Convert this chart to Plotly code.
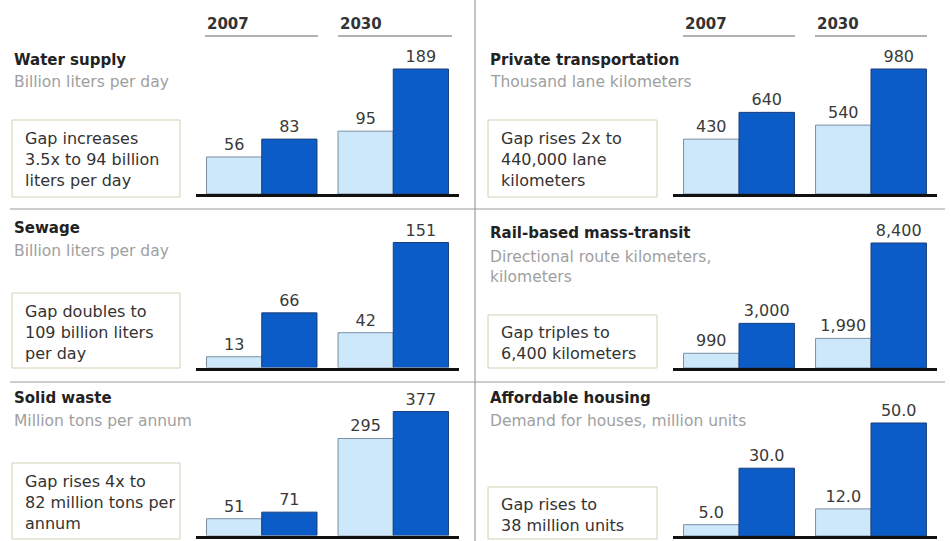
import plotly.graph_objects as go

# ---------------- data ----------------
years = ["2007", "2030"]
titles = ["Water supply", "Sewage", "Solid waste",
          "Private transportation", "Rail-based mass-transit", "Affordable housing"]
subtitles = ["Billion liters per day", "Billion liters per day", "Million tons per annum",
             "Thousand lane kilometers", "Directional route kilometers,<br>kilometers",
             "Demand for houses, million units"]
notes = ["Gap increases<br>3.5x to 94 billion<br>liters per day",
         "Gap doubles to<br>109 billion liters<br>per day",
         "Gap rises 4x to<br>82 million tons per<br>annum",
         "Gap rises 2x to<br>440,000 lane<br>kilometers",
         "Gap triples to<br>6,400 kilometers",
         "Gap rises to<br>38 million units"]
supply = [[56, 95], [13, 42], [51, 295], [430, 540], [990, 1990], [5.0, 12.0]]
demand = [[83, 189], [66, 151], [71, 377], [640, 980], [3000, 8400], [30.0, 50.0]]
value_formats = ["%{y}", "%{y}", "%{y}", "%{y}", "%{y:,}", "%{y:.1f}"]

# ---------------- layout helpers ----------------
W, H = 951, 541
def fx(p): return p / W
def fy(p): return 1 - p / H

FONT = "DejaVu Sans, Arial, sans-serif"
LIGHT = "#cde7fb"
LIGHT_LINE = "#7a8fa3"
DARK = "#0b5cc6"
DARK_LINE = "#1b3f78"

col_dom = [(196, 459), (673, 937)]
col_text_x = [12, 488]
box_x = [(12, 180), (488, 657)]
baselines = [194, 367.5, 535.5, 194, 368, 536]
bar_px = [125, 125, 124, 125, 125, 113]
title_y = [60, 228, 398, 60, 233, 398]
sub_top = [71, 240, 410, 71, 246, 410]
box_y = [(120, 197), (293, 368), (463, 539), (120, 197), (315, 368), (487, 539)]

fig = go.Figure()
annotations = []
shapes = []
DOM_H = 150

for i in range(6):
    col = i // 3
    ax = "" if i == 0 else str(i + 1)
    xa, ya = "x" + ax, "y" + ax
    for vals, fill, line in ((supply[i], LIGHT, LIGHT_LINE), (demand[i], DARK, DARK_LINE)):
        fig.add_trace(go.Bar(
            x=years, y=vals, xaxis=xa, yaxis=ya,
            marker=dict(color=fill, line=dict(color=line, width=1)),
            texttemplate=value_formats[i], textposition="outside",
            textfont=dict(family=FONT, size=16, color="#3a3a3a"),
            cliponaxis=False, showlegend=False, hoverinfo="skip"))
    top = max(supply[i] + demand[i]) * DOM_H / bar_px[i]
    d0, d1 = col_dom[col]
    fig.layout["xaxis" + ax] = dict(
        domain=[fx(d0), fx(d1)], anchor=ya, range=[-0.5, 1.5],
        showline=True, linecolor="#111", linewidth=3,
        showticklabels=False, ticks="", showgrid=False, zeroline=False, fixedrange=True)
    fig.layout["yaxis" + ax] = dict(
        domain=[fy(baselines[i]), fy(baselines[i] - DOM_H)], anchor=xa, range=[0, top],
        visible=False, showgrid=False, zeroline=False, fixedrange=True)

    # texts
    annotations.append(dict(x=fx(col_text_x[col]), y=fy(title_y[i]), xref="paper", yref="paper",
                            text="<b>" + titles[i] + "</b>", showarrow=False,
                            xanchor="left", yanchor="middle",
                            font=dict(family=FONT, size=15, color="#222")))
    annotations.append(dict(x=fx(col_text_x[col]), y=fy(sub_top[i]), xref="paper", yref="paper",
                            text=subtitles[i], showarrow=False, align="left",
                            xanchor="left", yanchor="top",
                            font=dict(family=FONT, size=15.5, color="#a0a0a0")))
    bx0, bx1 = box_x[col]
    by0, by1 = box_y[i]
    shapes.append(dict(type="rect", xref="paper", yref="paper",
                       x0=fx(bx0), x1=fx(bx1), y0=fy(by1), y1=fy(by0),
                       line=dict(color="#d4d0b6", width=1), fillcolor="white", layer="below"))
    annotations.append(dict(x=fx(bx0 + 11), y=fy((by0 + by1) / 2 + 1.5), xref="paper", yref="paper",
                            text=notes[i], showarrow=False, align="left",
                            xanchor="left", yanchor="middle",
                            font=dict(family=FONT, size=16, color="#333")))

# year headers
header_x = [(205, 318), (338, 452), (683, 795), (815, 927)]
for k, (h0, h1) in enumerate(header_x):
    annotations.append(dict(x=fx(h0), y=fy(24), xref="paper", yref="paper",
                            text="<b>" + years[k % 2] + "</b>", showarrow=False,
                            xanchor="left", yanchor="middle",
                            font=dict(family=FONT, size=15, color="#333")))
    shapes.append(dict(type="line", xref="paper", yref="paper",
                       x0=fx(h0), x1=fx(h1), y0=fy(36), y1=fy(36),
                       line=dict(color="#666", width=1)))

# dividers
shapes.append(dict(type="line", xref="paper", yref="paper", x0=fx(475), x1=fx(475),
                   y0=0, y1=1, line=dict(color="#8a8a8a", width=1)))
for yy in (209, 382):
    shapes.append(dict(type="line", xref="paper", yref="paper", x0=fx(10), x1=fx(945),
                       y0=fy(yy), y1=fy(yy), line=dict(color="#9a9a9a", width=1)))

fig.update_layout(
    width=W, height=H, margin=dict(l=0, r=0, t=0, b=0),
    paper_bgcolor="white", plot_bgcolor="white",
    barmode="group", bargap=0.16, bargroupgap=0,
    annotations=annotations, shapes=shapes, showlegend=False,
    font=dict(family=FONT))

fig.write_html("out.html", config={"displayModeBar": False})
